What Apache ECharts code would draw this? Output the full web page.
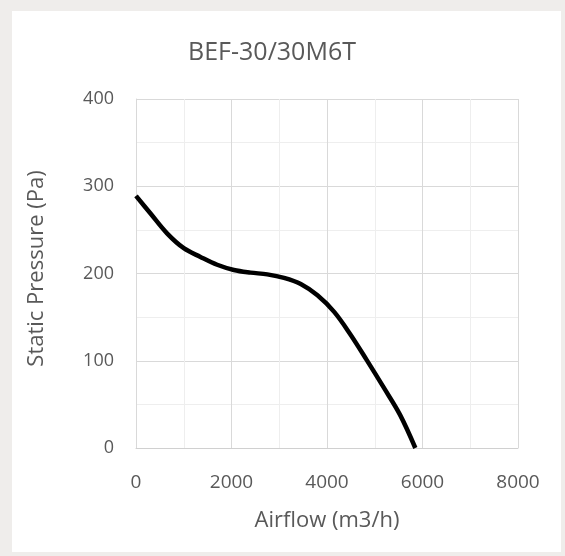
<!DOCTYPE html>
<html>
<head>
<meta charset="utf-8">
<script src="https://cdn.jsdelivr.net/npm/echarts@6/dist/echarts.min.js"></script>
<style>
html,body{margin:0;padding:0;width:565px;height:556px;background:#efedeb;overflow:hidden;}
#card{position:absolute;left:12px;top:11px;width:549px;height:541px;background:#ffffff;}
#chart{position:absolute;left:0;top:0;width:565px;height:556px;}
</style>
</head>
<body>
<div id="card"></div>
<div id="chart"></div>
<script>
const titleText = "BEF-30/30M6T";
const xName = "Airflow (m3/h)";
const yName = "Static Pressure (Pa)";
const airflow = [0, 300, 650, 1000, 1350, 1700, 2050, 2400, 2750, 3100, 3450, 3800, 4150, 4480, 4830, 5180, 5530, 5850];
const pressure = [289, 269, 246, 229, 219, 210, 204, 201, 199, 195, 188, 175, 156, 131, 101, 70, 38, 0];
const xTicks = [0, 2000, 4000, 6000, 8000];
const yTicks = [0, 100, 200, 300, 400];

const chart = echarts.init(document.getElementById('chart'), null, {renderer: 'canvas'});
const font = "'Open Sans', 'Liberation Sans', sans-serif";
const txt = '#595959';
chart.setOption({
  backgroundColor: 'transparent',
  animation: false,
  title: {
    text: titleText,
    left: 267, top: 35, textAlign: 'center',
    textStyle: {fontFamily: font, fontSize: 25, fontWeight: 'normal', color: txt}
  },
  grid: {left: 136, right: 47, top: 99, bottom: 108, containLabel: false},
  xAxis: {
    type: 'value',
    min: xTicks[0], max: xTicks[xTicks.length - 1], interval: 2000,
    name: xName, nameLocation: 'middle', nameGap: 62,
    nameTextStyle: {fontFamily: font, fontSize: 22, color: txt},
    axisLine: {show: true, lineStyle: {color: '#d0d0d0', width: 1}},
    axisTick: {show: false},
    axisLabel: {fontFamily: font, fontSize: 19, color: txt, margin: 25, formatter: v => String(v)},
    splitLine: {show: true, lineStyle: {color: '#d9d9d9', width: 1}},
    minorTick: {show: false, splitNumber: 2},
    minorSplitLine: {show: true, lineStyle: {color: '#eeeeee', width: 1}}
  },
  yAxis: {
    type: 'value',
    min: yTicks[0], max: yTicks[yTicks.length - 1], interval: 100,
    name: yName, nameLocation: 'middle', nameGap: 88,
    nameTextStyle: {fontFamily: font, fontSize: 22, color: txt, padding: [0, 0, 0, 10]},
    axisLine: {show: true, lineStyle: {color: '#d9d9d9', width: 1}},
    axisTick: {show: false},
    axisLabel: {fontFamily: font, fontSize: 18, color: txt, margin: 22, formatter: v => String(v)},
    splitLine: {show: true, lineStyle: {color: '#d9d9d9', width: 1}},
    minorTick: {show: false, splitNumber: 2},
    minorSplitLine: {show: true, lineStyle: {color: '#eeeeee', width: 1}}
  },
  series: [{
    type: 'line',
    data: airflow.map((x, i) => [x, pressure[i]]),
    smooth: 0.35,
    showSymbol: false,
    lineStyle: {color: '#000000', width: 4.5},
    clip: false
  }]
});
</script>
</body>
</html>
